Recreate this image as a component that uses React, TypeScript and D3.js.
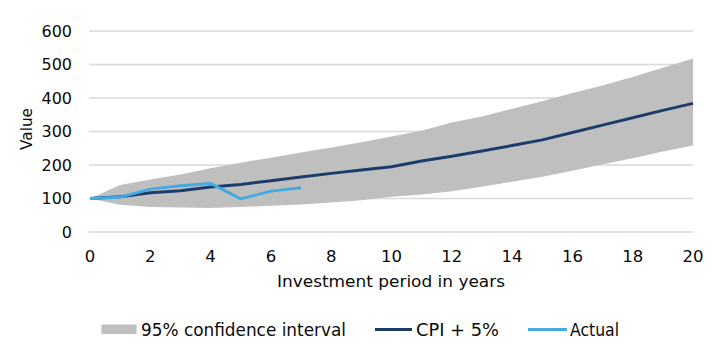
import React from "react";
import * as d3 from "d3";

const years = d3.range(0, 21);
const upperBand = [100, 140, 157, 172, 190, 207, 222, 237, 252, 268, 285, 302, 327, 345, 368, 390, 415, 437, 463, 490, 518];
const lowerBand = [100, 81, 75, 73, 72, 75, 78, 82, 88, 95, 105, 112, 122, 135, 150, 165, 183, 202, 220, 240, 258];
const cpiPlus5 = [100, 105, 117, 123, 134, 142, 153, 164, 175, 185, 195, 212, 226, 242, 258, 275, 297, 319, 341, 363, 384];
const actualYears = [0, 1, 2, 3, 4, 5, 6, 7];
const actual = [100, 104, 128, 138, 145, 99, 122, 132];
const xTicks = [0, 2, 4, 6, 8, 10, 12, 14, 16, 18, 20];
const yTicks = [0, 100, 200, 300, 400, 500, 600];

const W = 720;
const H = 357;
const FONT = "'DejaVu Sans', Verdana, sans-serif";

export default function App() {
  const x = d3.scaleLinear().domain([0, 20]).range([90, 693]);
  const y = d3.scaleLinear().domain([0, 600]).range([232, 31]);

  const area = d3
    .area<number>()
    .x((d) => x(d))
    .y0((d) => y(lowerBand[d]))
    .y1((d) => y(upperBand[d]));
  const cpiLine = d3
    .line<number>()
    .x((d) => x(d))
    .y((d) => y(cpiPlus5[d]));
  const actualLine = d3
    .line<number>()
    .x((d) => x(d))
    .y((_, i) => y(actual[i]));

  return (
    <svg
      width={W}
      height={H}
      style={{ position: "absolute", left: 0, top: 0, background: "#fff" }}
      fontFamily={FONT}
    >
      <rect width={W} height={H} fill="#fff" />
      {yTicks.map((t) => (
        <g key={t}>
          <line x1={89} x2={693} y1={y(t)} y2={y(t)} stroke="#d9d9d9" strokeWidth={1.3} />
          <text x={72} y={y(t)} dy="0.36em" textAnchor="end" fontSize={16} fill="#0a0a0a">
            {t}
          </text>
        </g>
      ))}
      <path d={area(years) || ""} fill="#bfbfbf" />
      <path d={cpiLine(years) || ""} fill="none" stroke="#1c3d6c" strokeWidth={3} strokeLinejoin="round" />
      <path d={actualLine(actualYears) || ""} fill="none" stroke="#45aae2" strokeWidth={3} strokeLinejoin="round" />
      {xTicks.map((t) => (
        <text key={t} x={x(t)} y={256} dy="0.36em" textAnchor="middle" fontSize={16.5} fill="#0a0a0a">
          {t}
        </text>
      ))}
      <text x={391} y={281} dy="0.36em" textAnchor="middle" fontSize={16.5} fill="#0a0a0a" textLength={228} lengthAdjust="spacingAndGlyphs">
        Investment period in years
      </text>
      <text
        transform={`translate(26,129) rotate(-90)`}
        textAnchor="middle"
        dy="0.36em"
        fontSize={16}
        fill="#0a0a0a"
        textLength={42}
        lengthAdjust="spacingAndGlyphs"
      >
        Value
      </text>
      <g>
        <rect x={101.5} y={324.5} width={35} height={9.5} fill="#bfbfbf" />
        <text x={141} y={329.5} dy="0.36em" fontSize={17} fill="#0a0a0a" textLength={205} lengthAdjust="spacingAndGlyphs">
          95% confidence interval
        </text>
        <line x1={375} x2={412} y1={329.5} y2={329.5} stroke="#1c3d6c" strokeWidth={3} />
        <text x={416} y={329.5} dy="0.36em" fontSize={17} fill="#0a0a0a" textLength={83} lengthAdjust="spacingAndGlyphs">
          CPI + 5%
        </text>
        <line x1={528} x2={567} y1={329.5} y2={329.5} stroke="#45aae2" strokeWidth={3} />
        <text x={570} y={329.5} dy="0.36em" fontSize={17} fill="#0a0a0a" textLength={49} lengthAdjust="spacingAndGlyphs">
          Actual
        </text>
      </g>
    </svg>
  );
}
